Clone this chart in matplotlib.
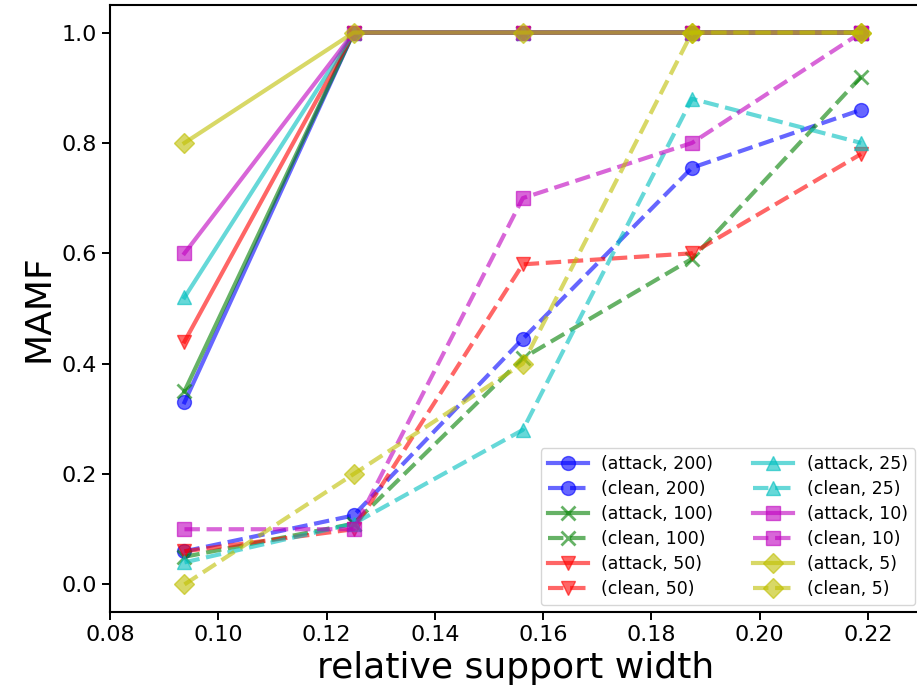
import matplotlib
matplotlib.use("Agg")
import matplotlib.pyplot as plt

x = [0.09375, 0.125, 0.15625, 0.1875, 0.21875]
settings = [200, 100, 50, 25, 10, 5]
colors = ['b', 'g', 'r', 'c', 'm', 'y']
markers = ['o', 'x', 'v', '^', 's', 'D']

attack = {
    200: [0.33, 1.0, 1.0, 1.0, 1.0],
    100: [0.35, 1.0, 1.0, 1.0, 1.0],
    50:  [0.44, 1.0, 1.0, 1.0, 1.0],
    25:  [0.52, 1.0, 1.0, 1.0, 1.0],
    10:  [0.60, 1.0, 1.0, 1.0, 1.0],
    5:   [0.80, 1.0, 1.0, 1.0, 1.0],
}
clean = {
    200: [0.06, 0.125, 0.445, 0.755, 0.86],
    100: [0.05, 0.11, 0.41, 0.59, 0.92],
    50:  [0.06, 0.10, 0.58, 0.60, 0.78],
    25:  [0.04, 0.11, 0.28, 0.88, 0.80],
    10:  [0.10, 0.10, 0.70, 0.80, 1.00],
    5:   [0.00, 0.20, 0.40, 1.00, 1.00],
}

fig = plt.figure(figsize=(9.17, 7.0), dpi=100)
ax = fig.add_axes([0.12, 0.1257, 0.8855, 0.8672])

for s, c, m in zip(settings, colors, markers):
    mew = 2.0 if m == 'x' else 1.0
    ax.plot(x, attack[s], color=c, marker=m, linestyle='-', lw=3,
            markersize=10, mew=mew, alpha=0.6, label=f"(attack, {s})")
    ax.plot(x, clean[s], color=c, marker=m, linestyle='--', lw=3,
            markersize=10, mew=mew, alpha=0.6, label=f"(clean, {s})")

ax.set_xlim(0.08, 0.23)
ax.set_ylim(-0.05, 1.05)
ax.set_xticks([0.08, 0.10, 0.12, 0.14, 0.16, 0.18, 0.20, 0.22])
ax.set_yticks([0.0, 0.2, 0.4, 0.6, 0.8, 1.0])
ax.tick_params(labelsize=16, width=1.4, length=6)
for sp in ax.spines.values():
    sp.set_linewidth(1.5)
ax.set_xlabel("relative support width", fontsize=26)
ax.set_ylabel("MAMF", fontsize=26)
ax.legend(ncol=2, fontsize=12.5, loc='lower right', handlelength=2.3,
          borderaxespad=0.4, columnspacing=2.3, labelspacing=0.4)

fig.savefig("out.png", dpi=100)
